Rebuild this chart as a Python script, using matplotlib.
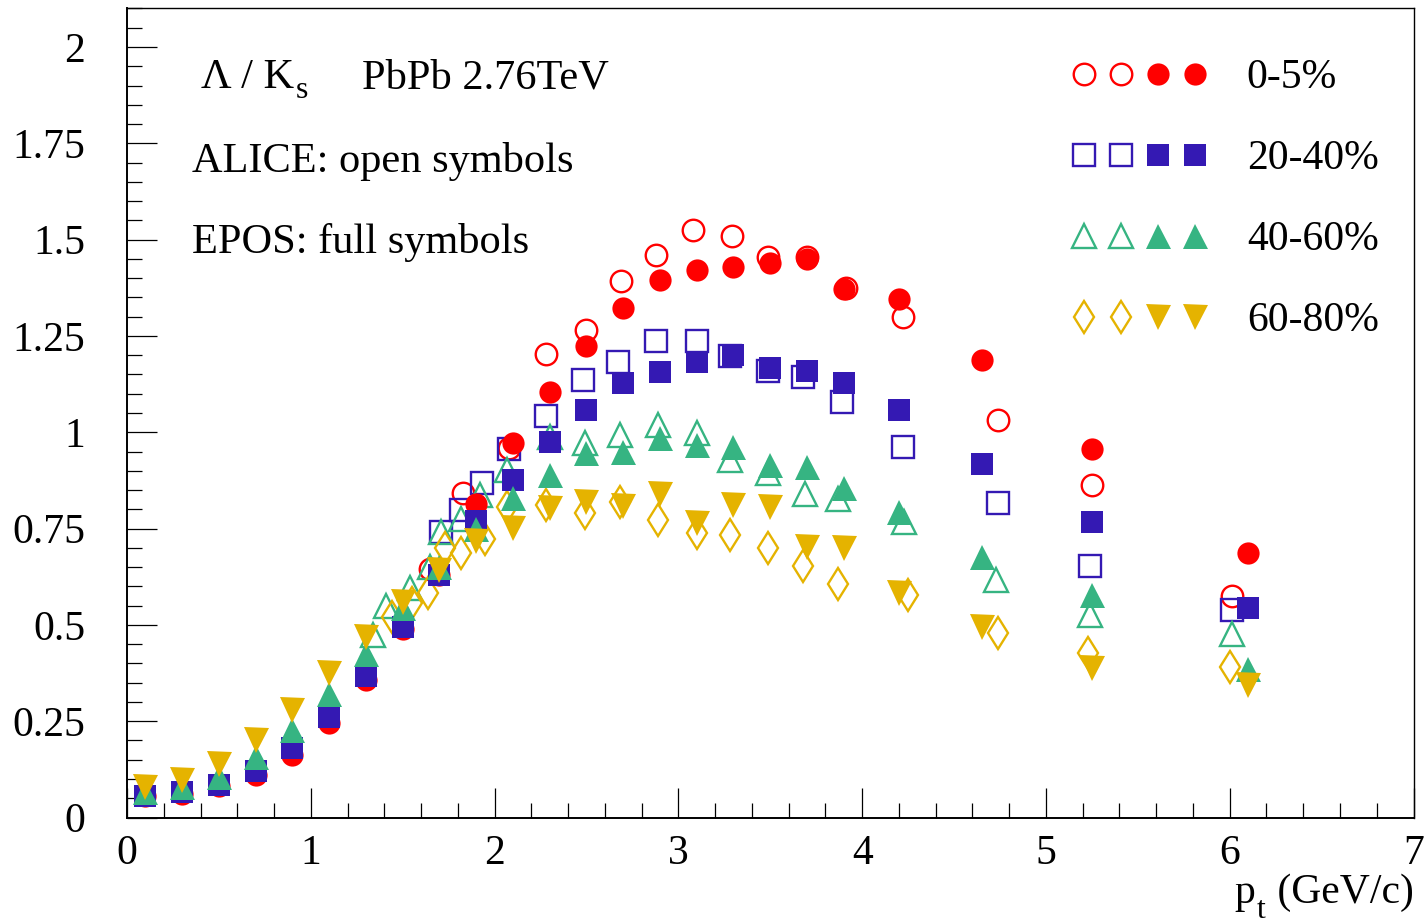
import matplotlib
matplotlib.use("Agg")
import matplotlib.pyplot as plt
from matplotlib.ticker import MultipleLocator, FormatStrFormatter
from matplotlib.legend_handler import HandlerTuple

plt.rcParams['font.family'] = ['Liberation Serif', 'DejaVu Serif']
plt.rcParams['mathtext.fontset'] = 'custom'
plt.rcParams['mathtext.rm'] = 'Liberation Serif'

# EPOS model (full symbols)
pt_epos = [0.1, 0.3, 0.5, 0.7, 0.9, 1.1, 1.3, 1.5, 1.7, 1.9, 2.1, 2.3, 2.5, 2.7,
           2.9, 3.1, 3.3, 3.5, 3.7, 3.9, 4.2, 4.65, 5.25, 6.1]
epos_0_5 = [0.055, 0.062, 0.082, 0.11, 0.162, 0.245, 0.357, 0.49, 0.63, 0.813,
            0.971, 1.104, 1.224, 1.322, 1.396, 1.42, 1.43, 1.439, 1.451, 1.373,
            1.345, 1.187, 0.956, 0.686]
epos_20_40 = [0.057, 0.066, 0.084, 0.121, 0.18, 0.26, 0.368, 0.494, 0.63, 0.77,
              0.875, 0.975, 1.059, 1.128, 1.156, 1.182, 1.2, 1.166, 1.16, 1.128,
              1.057, 0.918, 0.766, 0.543]
epos_40_60 = [0.065, 0.078, 0.106, 0.156, 0.228, 0.32, 0.425, 0.543, 0.651, 0.748,
              0.829, 0.888, 0.945, 0.949, 0.984, 0.966, 0.962, 0.914, 0.91, 0.855,
              0.793, 0.676, 0.577, 0.385]
epos_60_80 = [0.079, 0.098, 0.139, 0.2, 0.28, 0.375, 0.468, 0.559, 0.642, 0.717,
              0.751, 0.803, 0.819, 0.808, 0.841, 0.764, 0.81, 0.806, 0.702, 0.699,
              0.582, 0.494, 0.388, 0.343]

# ALICE data (open symbols)
pt_alice_0_5 = [1.65, 1.83, 2.08, 2.28, 2.5, 2.69, 2.88, 3.08, 3.29, 3.49, 3.7,
                3.91, 4.22, 4.74, 5.25, 6.01]
alice_0_5 = [0.645, 0.842, 0.958, 1.202, 1.266, 1.392, 1.461, 1.524, 1.509, 1.456,
             1.454, 1.375, 1.299, 1.032, 0.862, 0.574]
pt_alice_20_40 = [1.71, 1.82, 1.93, 2.08, 2.28, 2.48, 2.67, 2.88, 3.1, 3.28, 3.49,
                  3.68, 3.89, 4.22, 4.74, 5.24, 6.01]
alice_20_40 = [0.74, 0.797, 0.867, 0.956, 1.041, 1.135, 1.182, 1.237, 1.238, 1.197,
               1.158, 1.143, 1.078, 0.962, 0.816, 0.652, 0.538]
pt_alice_40_60 = [1.34, 1.41, 1.54, 1.65, 1.71, 1.82, 1.92, 2.07, 2.3, 2.49, 2.68,
                  2.89, 3.1, 3.28, 3.49, 3.69, 3.87, 4.23, 4.73, 5.24, 6.01]
alice_40_60 = [0.475, 0.55, 0.595, 0.65, 0.74, 0.775, 0.836, 0.901, 0.988, 0.971,
               0.992, 1.018, 0.999, 0.927, 0.893, 0.841, 0.828, 0.767, 0.616, 0.525,
               0.476]
pt_alice_60_80 = [1.44, 1.55, 1.64, 1.73, 1.82, 1.95, 2.07, 2.28, 2.49, 2.68, 2.89,
                  3.1, 3.28, 3.49, 3.68, 3.87, 4.25, 4.74, 5.23, 6.0]
alice_60_80 = [0.52, 0.557, 0.583, 0.699, 0.686, 0.722, 0.806, 0.81, 0.79, 0.819,
               0.772, 0.738, 0.733, 0.699, 0.654, 0.606, 0.577, 0.48, 0.426, 0.39]

centralities = ['0-5%', '20-40%', '40-60%', '60-80%']
colors = ['#ff0000', '#3419b3', '#36b482', '#e5b300']
open_markers = ['o', 's', '^', 'd']
full_markers = ['o', 's', '^', 'v']
open_sizes = [15.5, 15.5, 17.5, 16.3]
full_sizes = [16.0, 16.0, 18.0, 18.0]

alice = [(pt_alice_0_5, alice_0_5), (pt_alice_20_40, alice_20_40),
         (pt_alice_40_60, alice_40_60), (pt_alice_60_80, alice_60_80)]
epos = [epos_0_5, epos_20_40, epos_40_60, epos_60_80]

fig = plt.figure(figsize=(14.26, 9.22), dpi=100)
ax = fig.add_axes([127 / 1426, 104.5 / 922, 1286.5 / 1426, 809 / 922])

open_lines = []
for (px, py), c, m, s in zip(alice, colors, open_markers, open_sizes):
    ln, = ax.plot(px, py, ls='none', marker=m, ms=s, mfc='none', mec=c, mew=1.7)
    open_lines.append(ln)
full_lines = []
for py, c, m, s in zip(epos, colors, full_markers, full_sizes):
    ln, = ax.plot(pt_epos, py, ls='none', marker=m, ms=s, mfc=c, mec=c, mew=0)
    full_lines.append(ln)

ax.set_xlim(0, 7)
ax.set_ylim(0, 2.1)
ax.xaxis.set_major_locator(MultipleLocator(1))
ax.xaxis.set_minor_locator(MultipleLocator(0.2))
ax.yaxis.set_major_locator(MultipleLocator(0.25))
ax.yaxis.set_minor_locator(MultipleLocator(0.05))
ax.yaxis.set_major_formatter(FormatStrFormatter('%g'))

ax.tick_params(which='both', direction='in', top=False, right=False,
               colors='black', width=0.9)
ax.tick_params(which='major', length=21.6)
ax.tick_params(which='minor', length=10.8)
ax.tick_params(axis='x', which='major', labelsize=30, pad=12)
ax.tick_params(axis='y', which='major', labelsize=30, pad=30)
for side in ['left', 'bottom']:
    ax.spines[side].set_linewidth(1.4)
for side in ['top', 'right']:
    ax.spines[side].set_linewidth(1.0)

# axis title p_t (GeV/c), built from pieces so the subscript sits low
gev = ax.text(1.0, -0.1057, ' (GeV/c)', transform=ax.transAxes,
              ha='right', va='baseline', fontsize=30)
sub_t = ax.annotate('t', xy=(0, 0), xycoords=gev, xytext=(-1, -9),
                    textcoords='offset points', ha='right', va='bottom', fontsize=23)
ax.annotate('p', xy=(0, 0), xycoords=(sub_t, gev), xytext=(-1, 0),
            textcoords='offset points', ha='right', va='bottom', fontsize=30)

# header texts
lam = ax.text(0.0575, 0.9017, '\u039b / K', transform=ax.transAxes,
              ha='left', va='baseline', fontsize=30.5)
ax.annotate('s', xy=(1, 0), xycoords=lam, xytext=(1.5, -6),
            textcoords='offset points', ha='left', va='bottom', fontsize=23)
ax.text(0.1827, 0.9017, 'PbPb 2.76TeV', transform=ax.transAxes,
        ha='left', va='baseline', fontsize=30.5)
ax.text(0.0505, 0.798, 'ALICE: open symbols', transform=ax.transAxes,
        ha='left', va='baseline', fontsize=30.5)
ax.text(0.0505, 0.698, 'EPOS: full symbols', transform=ax.transAxes,
        ha='left', va='baseline', fontsize=30.5)

handles = [(o, o, f, f) for o, f in zip(open_lines, full_lines)]
ax.legend(handles, centralities, handler_map={tuple: HandlerTuple(ndivide=None, pad=0)},
          loc='upper left', bbox_to_anchor=(0.7295, 0.938), borderaxespad=0,
          borderpad=0, frameon=False, fontsize=30, handlelength=3.55,
          handletextpad=0.8, labelspacing=1.02, numpoints=1)

fig.savefig('out.png', dpi=100)
